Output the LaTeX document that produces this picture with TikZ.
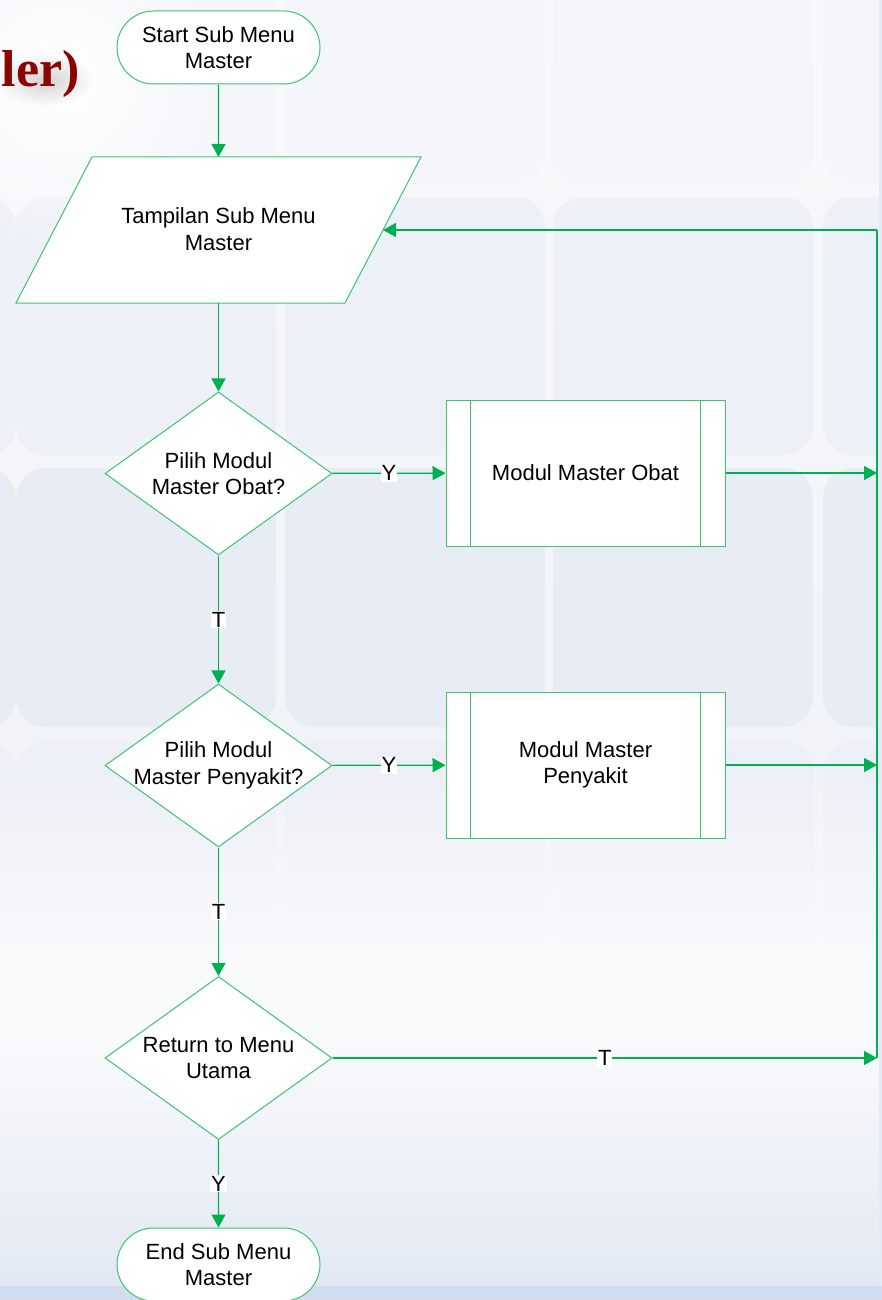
\documentclass[tikz,border=0pt]{standalone}
\usepackage{fontspec}
\setmainfont{Liberation Sans}
\newfontfamily\titlefont{Liberation Serif}
\usetikzlibrary{shapes.geometric,shapes.misc,arrows.meta,fadings}
\tikzfading[name=glowfade, inner color=transparent!0, outer color=transparent!100]
\definecolor{lnk}{RGB}{0,176,80}
\definecolor{brd}{RGB}{60,195,115}
\definecolor{bgtop}{RGB}{248,249,251}
\definecolor{bgbot}{RGB}{236,239,246}
\definecolor{tileA}{RGB}{244,246,250}
\definecolor{tileB}{RGB}{237,240,247}
\definecolor{tileC}{RGB}{232,236,245}
\definecolor{tileD}{RGB}{236,239,246}
\definecolor{pale}{RGB}{249,250,252}
\definecolor{blueish}{RGB}{226,232,243}
\definecolor{strip}{RGB}{210,221,240}
\definecolor{darkred}{RGB}{140,5,5}
\begin{document}
\begin{tikzpicture}[x=1pt,y=-1pt,
  every node/.style={font=\fontsize{22}{26.5}\selectfont, align=center, text=black},
  term/.style={rounded rectangle, draw=brd, fill=white, line width=1pt,
    minimum width=203pt, minimum height=73pt, inner sep=0pt},
  dec/.style={diamond, draw=brd, fill=white, line width=1pt,
    minimum width=227pt, minimum height=163pt, inner sep=0pt},
  proc/.style={rectangle, draw=brd, fill=white, line width=1pt,
    minimum width=279pt, minimum height=146pt, inner sep=0pt},
  flow/.style={draw=lnk, line width=1.2pt, -{Triangle[length=13pt,width=14pt]}},
  plain/.style={draw=lnk, line width=1.2pt},
  lbl/.style={fill=white, inner sep=1pt}
]
\useasboundingbox (0,0) rectangle (882,1300);
\begin{scope}
\clip (0,0) rectangle (882,1300);
% background
\shade[top color=bgtop, bottom color=bgbot] (0,0) rectangle (882,1300);
\foreach \x in {-244,16,285,553,823}{
  \fill[tileA, rounded corners=30pt] (\x,-73) rectangle ++(260,258);
  \fill[tileB, rounded corners=30pt] (\x,197) rectangle ++(260,258);
  \fill[tileC, rounded corners=30pt] (\x,468) rectangle ++(260,259);
  \fill[tileD, rounded corners=30pt] (\x,742) rectangle ++(260,258);
}
\fill[pale, path fading=north] (0,760) rectangle (882,960);
\fill[pale] (0,960) rectangle (882,1040);
\shade[top color=pale, bottom color=blueish] (0,1040) rectangle (882,1286);
\fill[strip] (0,1286) rectangle (882,1300);
\fill[white, path fading=glowfade] (60,80) circle (170);
\fill[strip!60!white] (879,0) rectangle (882,1286);
% soft shadow of the title fragment (drawn as a blurred shape)
\fill[gray!35, path fading=glowfade] (45,80) ellipse (48 and 26);
% title fragment
\node[font=\titlefont\bfseries\fontsize{52}{60}\selectfont, text=darkred, anchor=base east, inner sep=0pt] (ttl) at (80,87) {ler)};
% shapes
\node[term] (start) at (218.5,47.5) {Start Sub Menu\\Master};
\filldraw[draw=brd, fill=white, line width=1pt] (92,157) -- (421,157) -- (345,303) -- (16,303) -- cycle;
\node (para) at (218.5,229) {Tampilan Sub Menu\\Master};
\coordinate (paraT) at (218.5,157);
\coordinate (paraB) at (218.5,303);
\coordinate (paraR) at (383,230);
\node[dec, label=center:{Pilih Modul\\Master Obat?}] (d1) at (218.5,473.5) {};
\node[proc] (b1) at (585.5,473) {Modul Master Obat};
\node[dec, label=center:{Pilih Modul\\Master Penyakit?}] (d2) at (218.5,765.5) {};
\node[proc] (b2) at (585.5,765) {Modul Master\\Penyakit};
\node[dec, label=center:{Return to Menu\\Utama}] (d3) at (218.5,1058) {};
\node[term] (end) at (218.5,1264.5) {End Sub Menu\\Master};
\foreach \b in {b1,b2}{
  \draw[brd, line width=1pt] ([xshift=25pt]\b.north west) -- ([xshift=25pt]\b.south west);
  \draw[brd, line width=1pt] ([xshift=-25pt]\b.north east) -- ([xshift=-25pt]\b.south east);
}
\coordinate (r1) at (877,473);
\coordinate (r2) at (877,765);
\coordinate (r3) at (877,1058);
\coordinate (rtop) at (877,230);
% connectors
\draw[flow] (start) -- (paraT);
\draw[flow] (paraB) -- (d1);
\draw[flow] (d1) -- node[lbl]{Y} (b1);
\draw[flow] (b1) -- (r1);
\draw[flow] (d1) -- node[lbl]{T} (d2);
\draw[flow] (d2) -- node[lbl]{Y} (b2);
\draw[flow] (b2) -- (r2);
\draw[flow] (d2) -- node[lbl]{T} (d3);
\draw[flow] (d3) -- node[lbl, pos=0.5]{T} (r3);
\draw[plain] (r3) -- (rtop);
\draw[flow] (rtop) -- (paraR);
\draw[flow] (d3) -- node[lbl]{Y} (end);
\end{scope}
\end{tikzpicture}
\end{document}
